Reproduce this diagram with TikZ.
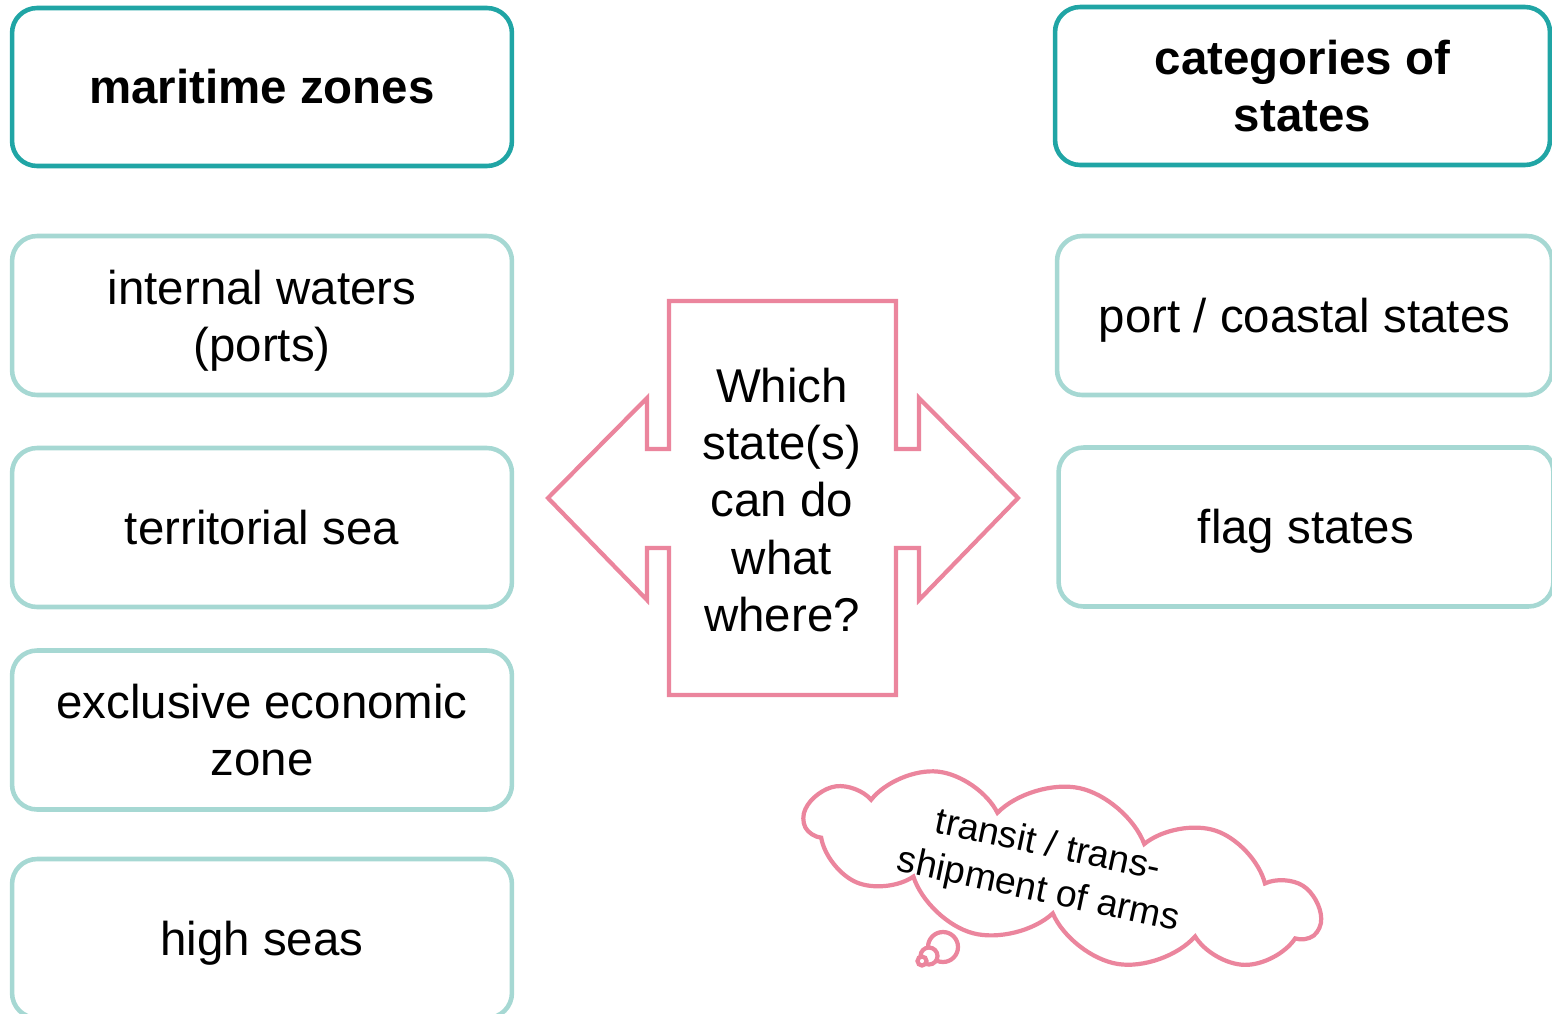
\documentclass[tikz,border=0pt]{standalone}
\usepackage{fontspec}
\setmainfont{Liberation Sans}
\usetikzlibrary{shapes.symbols}
\definecolor{darkteal}{RGB}{32,165,165}
\definecolor{paleteal}{RGB}{166,216,211}
\definecolor{rosepink}{RGB}{235,133,157}
\begin{document}
\begin{tikzpicture}[x=0.02cm,y=-0.02cm,
		headbox/.style={draw=darkteal,line width=2.6pt,rounded corners=0.5cm,minimum height=3.16cm,align=center,font=\fontsize{27}{32.5}\selectfont\bfseries},
		zonebox/.style={draw=paleteal,line width=2.6pt,rounded corners=0.5cm,minimum height=3.18cm,align=center,font=\fontsize{27}{32.5}\selectfont},
		oneline/.style={text height=21.6pt,text depth=2.7pt},
		pinkline/.style={draw=rosepink,line width=2.4pt}]
		\useasboundingbox (0,0) rectangle (1552,1014);
		
		% left column
		\node[headbox,oneline,minimum width=10cm] (zones) at (262,87) {maritime zones};
		\node[zonebox,minimum width=10cm] (internal) at (262,315.5) {internal waters\\\smash{(ports)}};
		\node[zonebox,oneline,minimum width=10cm] (territorial) at (262,527.5) {territorial sea};
		\node[zonebox,minimum width=10cm] (eez) at (262,730) {exclusive economic\\zone};
		\node[zonebox,oneline,minimum width=10cm] (highseas) at (262,938.5) {high seas};
		
		% right column
		\node[headbox,minimum width=9.9cm] (states) at (1302.5,86) {categories of\\states};
		\node[zonebox,oneline,minimum width=9.9cm] (port) at (1304.5,315.5) {port / coastal states};
		\node[zonebox,oneline,minimum width=9.9cm] (flag) at (1306,527) {flag states};
		
		% double arrow in the middle
		\draw[pinkline,fill=white] (669,301) -- (896,301) -- (896,449) -- (919,449) -- (919,398)
			-- (1018,498) -- (919,600) -- (919,548) -- (896,548) -- (896,695) -- (669,695)
			-- (669,548) -- (647,548) -- (647,600) -- (548,498) -- (647,398) -- (647,449)
			-- (669,449) -- cycle;
		\node[align=center,font=\fontsize{27}{32.6}\selectfont] (question) at (782,500) {Which\\state(s)\\can do\\what\\where?};
		
		% thought cloud
		\node[cloud,pinkline,fill=white,cloud puffs=11,cloud puff arc=115,cloud ignores aspect,
			minimum width=10.5cm,minimum height=3.35cm,rotate=-12] (cloud) at (1062,870) {};
		\node[rotate=-12,align=center,font=\fontsize{21.3}{26}\selectfont] (cloudtext) at (1043,869) {transit / trans-\\shipment of arms};
		\draw[pinkline,fill=white] (943,947) circle (15);
		\draw[pinkline,fill=white] (929,956) circle (8.5);
		\draw[pinkline,fill=white] (922,961) circle (4.5);
	\end{tikzpicture}
\end{document}
